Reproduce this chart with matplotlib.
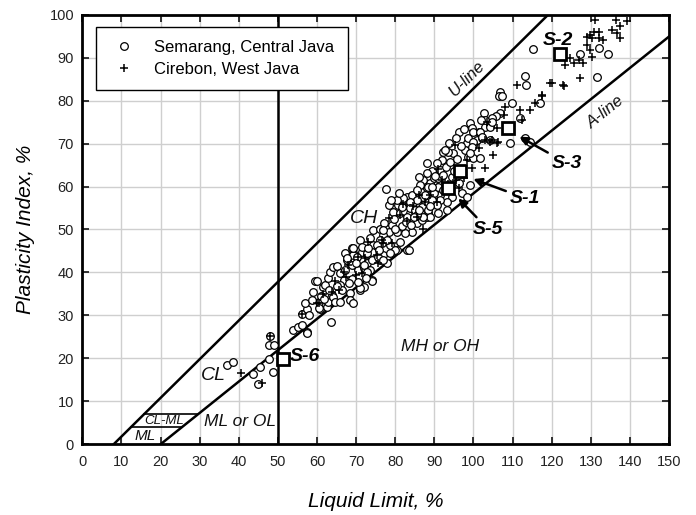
import numpy as np
import matplotlib
matplotlib.use("Agg")
from matplotlib import pyplot as plt
from matplotlib import font_manager

# Semarang, Central Java (LL, PI)
semarang = [
    (37.1, 18.5), (38.6, 19.2), (43.6, 16.4), (44.8, 14.0), (45.4, 18.1), (47.6, 19.8), (48.7, 16.9),
    (48.0, 25.2), (47.8, 23.1), (49.0, 23.1),
    (53.8, 26.6), (55.2, 27.4), (57.5, 26.1), (57.4, 25.8), (56.1, 30.3), (57.5, 31.5), (57.0, 32.8),
    (56.1, 27.8), (59.5, 37.9), (59.1, 35.5), (60.8, 31.5), (61.6, 36.7), (62.5, 32.0), (63.5, 28.5),
    (60.0, 37.9), (60.4, 33.2), (60.4, 31.7), (62.1, 37.1), (62.9, 38.6), (63.3, 40.2), (64.2, 41.3),
    (65.1, 41.5), (63.8, 34.8), (62.9, 33.2), (64.2, 34.4), (64.6, 33.2), (65.9, 33.2), (66.8, 38.2),
    (65.9, 39.8), (67.2, 40.6), (68.5, 35.1), (68.5, 33.6), (69.3, 32.8), (67.6, 44.1), (67.6, 42.9),
    (69.3, 44.1), (71.0, 45.2), (69.7, 41.7), (70.6, 40.6), (71.9, 41.0), (72.7, 42.1), (73.6, 40.6),
    (74.0, 38.2), (71.0, 35.9), (71.9, 36.7), (68.9, 45.6), (71.5, 44.8), (72.7, 44.1), (74.4, 46.4),
    (74.9, 44.1), (76.1, 42.9), (77.0, 44.1), (77.9, 42.1), (80.4, 45.2), (76.6, 46.8), (78.7, 46.4),
    (83.0, 45.2), (71.0, 36.3), (74.0, 37.9), (66.0, 37.0), (61.0, 34.5), (58.0, 30.0),
    (78.3, 55.7), (79.5, 54.1), (80.8, 55.7), (81.7, 57.3), (83.0, 57.6), (83.4, 56.1), (84.2, 58.0),
    (81.3, 53.8), (82.5, 54.1), (83.8, 53.8), (85.1, 54.1), (86.4, 55.7), (87.6, 56.5), (86.8, 58.8),
    (88.1, 59.6), (88.9, 60.8), (90.6, 59.2), (91.5, 58.0), (88.5, 53.8), (91.0, 53.8), (93.2, 54.5),
    (85.5, 51.4), (84.2, 49.5), (82.5, 49.1), (81.3, 47.2), (80.0, 45.2), (81.7, 50.7), (79.1, 51.0),
    (78.3, 49.5), (77.0, 48.7), (76.1, 47.6), (74.4, 49.9), (75.3, 46.4), (74.0, 44.8), (72.7, 44.5),
    (71.0, 47.6), (71.5, 46.0), (69.3, 45.6), (67.2, 44.5), (67.6, 43.3), (70.2, 43.7), (68.9, 41.7),
    (71.9, 41.7), (72.7, 40.2), (74.0, 42.9), (75.7, 43.7), (77.0, 42.9), (78.7, 44.5), (83.4, 45.2),
    (86.8, 52.2), (88.1, 53.0), (89.8, 58.4), (91.5, 60.4), (77.7, 59.4),
    (99.2, 74.7), (99.6, 73.6), (101.3, 72.8), (103.0, 73.9), (104.3, 74.3), (96.2, 72.6), (100.9, 70.8),
    (102.2, 71.2), (100.0, 69.7), (98.3, 70.1), (97.9, 68.5), (98.7, 66.9), (100.0, 66.6), (101.7, 66.6),
    (94.9, 67.7), (93.6, 68.1), (92.3, 68.1), (91.9, 66.2), (90.6, 65.4), (91.5, 63.9), (89.4, 63.5),
    (88.1, 63.1), (89.8, 61.9), (91.0, 61.9), (92.3, 62.7), (94.5, 62.3), (87.2, 61.5), (88.5, 60.0),
    (86.4, 60.4), (85.5, 59.2), (91.0, 60.0), (92.3, 59.2), (96.2, 60.8), (97.0, 58.4), (94.5, 57.6),
    (93.2, 56.5), (91.5, 56.9), (89.4, 56.9), (87.2, 57.6), (85.5, 56.9), (83.8, 56.5), (82.1, 57.3),
    (80.4, 56.9), (81.7, 55.3), (83.8, 54.9), (85.1, 54.5), (86.8, 55.3), (88.5, 54.5), (90.6, 55.7),
    (88.9, 53.0), (87.2, 53.0), (85.5, 53.4), (83.0, 53.0), (98.3, 57.6), (99.2, 60.4),
    (106.8, 77.2), (105.8, 76.4), (104.7, 75.9), (102.6, 77.0), (103.0, 75.6), (104.3, 73.9),
    (104.7, 75.1), (100.0, 72.8), (98.7, 71.2), (101.7, 72.8), (102.1, 71.6), (104.3, 70.8),
    (100.0, 70.4), (109.4, 70.1), (113.2, 71.2), (114.5, 70.4), (92.8, 68.5), (99.6, 69.3), (99.2, 67.7),
    (111.9, 75.9),
    (113.2, 85.7), (113.5, 83.6), (106.8, 81.9), (106.6, 81.1), (107.3, 81.1), (109.8, 79.4),
    (117.0, 79.4), (115.2, 92.0), (127.3, 90.8), (132.0, 92.2), (134.5, 90.9), (131.6, 85.6),
    (73.5, 48.0), (76.2, 50.2), (77.2, 51.5), (79.8, 52.5), (80.5, 49.5), (82.8, 51.8), (84.8, 52.8),
    (86.0, 54.5), (87.5, 58.0), (89.5, 59.8), (90.2, 62.5), (93.0, 64.5), (94.0, 65.8), (95.8, 66.5),
    (96.8, 69.5), (97.2, 64.0), (95.0, 63.5), (89.0, 55.5), (84.0, 51.0), (80.0, 50.0), (78.0, 47.5),
    (75.8, 45.2), (73.0, 45.8), (70.0, 42.2), (69.0, 38.5), (72.5, 38.8), (66.5, 35.8), (65.2, 36.8),
    (63.0, 36.0), (61.8, 33.8), (58.8, 33.5), (68.2, 37.5), (70.5, 37.8), (76.8, 49.8), (79.0, 56.8),
    (81.0, 58.5), (86.2, 62.2), (88.0, 65.5), (93.8, 70.2), (95.5, 71.2), (97.5, 73.5), (102.0, 75.5),
]

# Cirebon, West Java (LL, PI)
cirebon = [
    (40.6, 16.7), (45.9, 14.2), (48.0, 25.2), (56.1, 30.3), (60.0, 32.8), (60.4, 32.8), (63.8, 35.5),
    (65.7, 35.9), (66.8, 40.2), (70.6, 43.7), (71.5, 39.8), (77.0, 46.8), (79.1, 46.8), (75.3, 44.1),
    (76.6, 47.6), (81.3, 53.4), (85.5, 53.0), (78.3, 52.6), (75.7, 42.1), (72.3, 43.3), (68.0, 41.7),
    (82.0, 56.0), (84.5, 55.5), (86.0, 58.0), (89.0, 58.0), (92.0, 61.5), (93.5, 60.5), (95.5, 61.5),
    (97.5, 62.0), (83.0, 52.0), (87.0, 50.0), (73.0, 47.0), (67.5, 39.0), (64.5, 38.0), (61.5, 35.0),
    (70.0, 39.5), (91.0, 64.0), (101.5, 69.0), (96.2, 59.6),
    (95.3, 69.7), (103.0, 64.2), (99.6, 64.2), (106.0, 70.1), (104.3, 70.4), (98.3, 66.2),
    (90.6, 56.5), (87.6, 56.5), (115.8, 79.4), (114.5, 77.8), (111.9, 77.8), (112.4, 75.6),
    (108.1, 78.6), (107.7, 76.7), (103.4, 75.1), (106.0, 73.6), (103.0, 70.8), (104.7, 70.8),
    (106.4, 70.4), (105.1, 67.3), (111.1, 83.6), (117.5, 81.3), (119.6, 84.0), (123.0, 83.6),
    (131.1, 98.8), (136.5, 98.8), (139.2, 98.6), (137.5, 97.4), (135.4, 96.4), (136.7, 95.8),
    (137.5, 94.5), (130.7, 96.0), (132.0, 96.0), (129.8, 95.3), (129.0, 94.9), (130.3, 94.5),
    (132.0, 94.5), (133.2, 94.1), (129.0, 92.9), (129.8, 91.8), (130.3, 90.2), (124.7, 89.8),
    (125.6, 88.7), (123.5, 88.3), (126.9, 89.5), (128.1, 88.7), (127.3, 85.2), (120.0, 84.2),
    (123.2, 83.4), (117.5, 81.1),
]

# tested samples
samples = ["S-1", "S-2", "S-3", "S-5", "S-6"]
sample_ll = [96.6, 122.2, 108.8, 93.6, 51.2]
sample_pi = [63.5, 90.8, 73.7, 59.6, 19.8]

names = {f.name for f in font_manager.fontManager.ttflist}
NARROW = "Liberation Sans Narrow" if "Liberation Sans Narrow" in names else "Liberation Sans"
plt.rcParams["font.family"] = [NARROW, "DejaVu Sans"]
REG = ["Liberation Sans", "DejaVu Sans"]


def plot_chart():
    fig = plt.figure(figsize=(6.96, 5.15), dpi=100)
    ax = fig.add_axes([0.1183, 0.1373, 0.9612 - 0.1183, 0.9715 - 0.1373])

    ax.set_xlim(0, 150)
    ax.set_ylim(0, 100)
    ax.set_xticks(np.arange(0, 151, 10))
    ax.set_yticks(np.arange(0, 101, 10))
    ax.grid(True, color="#cfcfcf", lw=1.0)
    ax.set_axisbelow(True)
    ts = 12 if NARROW != "Liberation Sans" else 10.5
    ax.tick_params(direction="in", length=5, width=1.3, top=True, right=True,
                   labelsize=ts, colors="#222222")
    ax.tick_params(axis="x", pad=8)
    ax.tick_params(axis="y", pad=6)
    for s in ax.spines.values():
        s.set_linewidth(2.0)

    # U-line, A-line, LL=50
    ll_u = np.array([8, 150])
    ax.plot(ll_u, 0.9 * (ll_u - 8), color="k", lw=1.8, zorder=2)
    ll_a = np.array([20, 150])
    ax.plot(ll_a, 0.73 * (ll_a - 20), color="k", lw=1.8, zorder=2)
    ax.axvline(50, color="k", lw=1.8, zorder=2)
    # CL-ML band
    ax.plot([7 / 0.9 + 8, 7 / 0.73 + 20], [7, 7], color="k", lw=1.2, zorder=2)
    ax.plot([4 / 0.9 + 8, 4 / 0.73 + 20], [4, 4], color="k", lw=1.2, zorder=2)

    s_arr = np.array(semarang)
    c_arr = np.array(cirebon)
    ax.plot(s_arr[:, 0], s_arr[:, 1], ls="none", marker="o", ms=5.5, mfc="white",
            mec="k", mew=0.9, label="Semarang, Central Java", zorder=3)
    ax.plot(c_arr[:, 0], c_arr[:, 1], ls="none", marker="+", ms=5.5, mec="k",
            mew=1.1, label="Cirebon, West Java", zorder=3)
    ax.plot(sample_ll, sample_pi, ls="none", marker="s", ms=9, mfc="white",
            mec="k", mew=2.0, zorder=5)

    bold = dict(fontsize=14, fontweight="bold", fontstyle="italic", zorder=6)
    arrow = dict(arrowstyle="-|>", color="k", lw=1.8, mutation_scale=12, shrinkA=1, shrinkB=5)
    ax.annotate("S-1", xy=(98.3, 62.3), xytext=(113.2, 57.3), ha="center", va="center",
                arrowprops=arrow, **bold)
    ax.annotate("S-3", xy=(110.2, 72.4), xytext=(123.9, 65.4), ha="center", va="center",
                arrowprops=arrow, **bold)
    ax.annotate("S-5", xy=(94.9, 58.4), xytext=(103.8, 50.0), ha="center", va="center",
                arrowprops=arrow, **bold)
    ax.text(121.7, 94.1, "S-2", ha="center", va="center", **bold)
    ax.text(57.0, 20.4, "S-6", ha="center", va="center", **bold)

    it = dict(fontstyle="italic", family=REG, color="#111111", ha="center", va="center")
    ax.text(72.0, 52.6, "CH", fontsize=14, zorder=4, **it)
    ax.text(33.5, 16.1, "CL", fontsize=14, **it)
    ax.text(91.5, 22.7, "MH or OH", fontsize=12.5, **it)
    ax.text(40.3, 5.3, "ML or OL", fontsize=12.5, **it)
    ax.text(20.8, 5.5, "CL-ML", fontsize=9.5, **it)
    ax.text(16.0, 1.9, "ML", fontsize=11, **it)
    ax.text(98.3, 85.2, "U-line", fontsize=12, rotation=44.7, **it)
    ax.text(133.7, 77.4, "A-line", fontsize=12, rotation=38.7, **it)

    ax.set_xlabel("Liquid Limit, %", fontsize=15, fontstyle="italic", labelpad=16)
    ax.set_ylabel("Plasticity Index, %", fontsize=15, fontstyle="italic", labelpad=10)

    leg = ax.legend(loc="upper left", bbox_to_anchor=(0.0228, 0.972), borderaxespad=0,
                    fancybox=False, edgecolor="k", framealpha=1, prop={"family": REG, "size": 12},
                    handletextpad=0.9, borderpad=0.8, labelspacing=0.4, handlelength=1.8)
    leg.get_frame().set_linewidth(1.0)

    fig.savefig("out.png", dpi=100)


if __name__ == "__main__":
    plot_chart()
